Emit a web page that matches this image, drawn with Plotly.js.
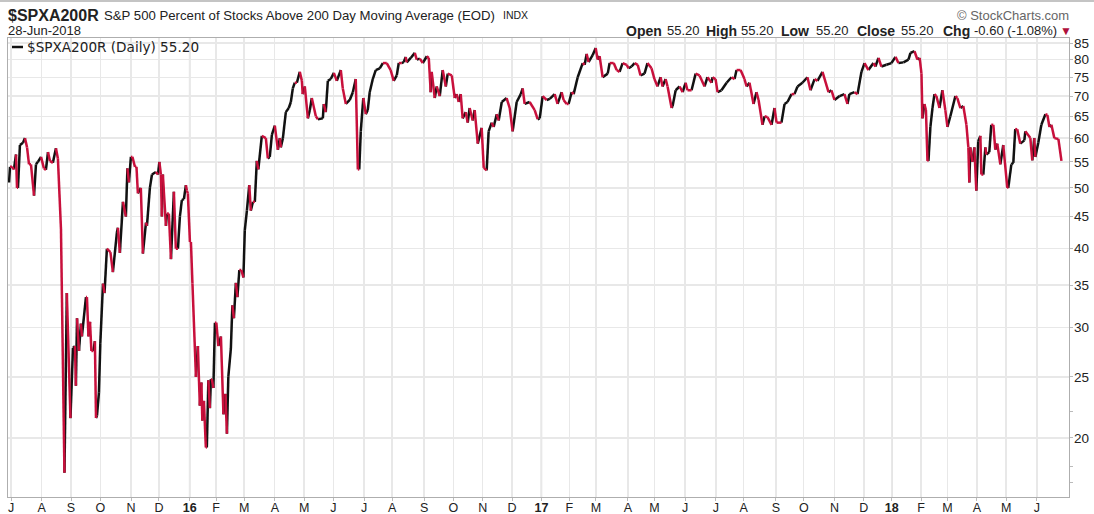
<!DOCTYPE html>
<html><head><meta charset="utf-8">
<script src="https://cdn.plot.ly/plotly-3.0.1.min.js"></script>
<style>html,body{margin:0;padding:0;background:#fff}#c{width:1094px;height:514px}</style>
</head><body><div id="c"></div>
<script>
// Trading sessions counted from 1 Jul 2015
const sessions = [-1.4,-0.7,0.7,2.1,3.6,4.3,5,6.4,8.6,10,11.5,12.9,14.3,16.5,17.9,19.3,21.5,23.6,25,26.5,27.9,30,32.2,33.6,35.8,36.5,38.3,40,42.6,44.4,45.8,46.5,47.3,48.7,50.1,50.8,53.7,54.4,55.5,56.6,57.6,59,60.1,60.9,61.6,63,64,65.9,67,68.7,71.2,73,75.9,76.6,78,80.2,82.3,83.4,84.5,85.9,87,88.8,89.9,90.9,93,94.5,96.7,97.4,99.5,101,103.8,105.3,106.3,107.4,108.1,108.8,111,111.7,113.1,114.6,116.7,118.1,119.6,121,122.4,123.9,125.3,126,126.7,128.2,128.9,130,132.5,133.9,134.6,135.3,136.4,137.1,138.2,139.6,140.3,141.4,142.5,143.2,143.9,145,146.1,147.1,148.6,150.4,152.2,153.6,154.7,155.7,157.5,158.6,159.7,161.1,162.2,163.6,165,166.5,167.5,169,170.7,171.8,173.3,174.7,176.1,177.2,179.7,182.6,184,185.4,186.9,189,191.2,192.6,193.3,194.8,196.9,199,200.5,201.9,203.3,204.8,206.9,208.4,209,210.5,212.7,214.1,215.5,218.4,219.9,223.4,224.1,225.5,227,229.1,231.3,233.4,236.3,237.7,239.9,242.7,244.9,247,248.5,249.5,250.6,252.4,254.2,255.6,257,259.2,261.3,264.2,266.4,269.2,272,274.2,276.4,277.8,280,281.4,282.8,283.5,286.4,289.3,290.7,292.9,295,297.9,299.3,300.7,301.4,303.6,305,307.2,309.3,311.5,312.9,315.8,317.9,319.3,320.8,322.2,323.6,325.8,327.2,328.6,330.8,332.2,334.4,337.2,338.7,340.8,342.2,344.4,345.8,348,349.4,351.6,355.1,357.3,359.4,362.3,365.2,366.6,368,371.6,375.2,377.3,378.8,380.9,383.8,386,389.5,391.6,394.5,395.9,398.1,399.5,401.7,403.1,406,409.6,411,412.4,413.8,416.7,418.9,420.3,421.7,423.9,427.5,428.9,431.8,433.9,436,438.2,441.1,442.5,444.6,446.8,449,451,453.9,456,458.9,461,463.2,465.4,466.8,469,470.4,473.3,474,476.2,479,481.2,483.3,484.7,487.6,490.5,493.3,496.9,499,501.9,502.6,504.8,506.2,509,512.7,516.2,518.4,519.8,522.7,525.5,527,529.1,532,534.1,535.6,538.4,539.9,542,544.9,547,548.5,552,554.2,556.3,559.2,561.3,563.5,567,570.6,572.8,575.7,577.8,581.4,585.7,587.8,590,593.6,597.1,599.3,600.7,604.3,606.5,609.3,611.5,614.3,617.9,619.3,621.5,623.6,627.2,630.8,633.7,635.8,639.4,643,644.4,647.3,649.4,651,652.3,653,654.4,655.5,656.6,657.3,658.7,660.2,661.6,663,665.2,667.3,669.4,670.9,673,676.6,678,680.2,682.3,684.5,685.9,686.6,687.3,688.8,690.2,691.6,693,694.5,695.2,696.6,698.1,698.8,700.9,702.3,703.8,705.2,706.6,708.8,710.9,713.8,714.5,716.7,718.1,719.5,720.9,723.1,726,726.7,730.3,731.7,733.1,733.9,736,738.2,741.1,742.5,744,745.4,747.5,750.4,752.6];
const percentAbove = [51,54,54,53.5,56.5,50,50,58.5,59,60,58,54.5,54.5,48.6,54.5,55,56,53.7,53.4,57,55.2,54.8,57.8,55.7,43,33.5,17.6,34,21.5,27.8,28,24.2,31,27.5,30.4,29,33.5,33.5,29,30.6,27.5,27.5,28.5,21.5,21.7,23.6,28.3,35.2,34,40,39.5,36.7,42.5,43.2,39.4,47.5,45,53.7,51,56,56,54,54,49,50,39.3,44,43.5,50,52.5,53,52.5,55,52.5,45,52.5,43.5,45.5,45.5,38.5,49.3,40,40,45,47.8,48,50.5,49.5,49,41,41,35.2,25,28,25,22.5,24.5,21.3,22.9,19.3,19.3,24.7,22.3,24.8,24.8,24,30.5,30.5,28,29,21.8,23.5,20.3,25,27.7,32.5,31,35.3,33.5,37,37,36,42.8,46,50.5,46,47.5,47.5,55.2,53.5,60.5,60,55.7,56,60.7,62.8,57.5,60,58,60,66,67,68.5,72,73.5,73.5,76.5,74,70.5,72.5,64.5,66.5,69.5,65,64.3,64.5,68,66,74,74.5,76.2,74,77,72,68,69,71,74.5,53.5,53.5,61.5,69.5,65.5,66.5,71,74.5,77,77.5,79,79,77,74,75.5,79,79,79.3,80.8,79.2,80.5,82,80,80.3,79,81,80.5,71,76.5,69.5,72.5,70,77,72.5,76,75.5,69.5,70.5,68.5,70.5,64.5,66,63.5,67,64,66.5,58.8,62.3,53.8,53.3,61.5,63.5,62.5,65.5,64,68.5,69.5,67,61.5,68.5,70.5,72,68,68.5,66.5,64.3,64.5,70,69,69.3,70.5,68,71,69,68,68,71,70.5,75,79,78.5,81.7,79.3,81.3,83.5,80,81,75,76,79,79,77,76.5,79,78.5,77.5,78,79,78.5,75.5,76,79,77.5,74.5,72.5,75,72.5,74.5,72.5,67,67.5,71.5,72.5,71,73.5,71.5,71.5,76,75.5,72.5,75,73.5,75,74.5,71,71.5,73.5,75,74.5,77,77,74.5,72.5,73.5,68,71,69,63,65,64.8,63,67,63.5,63.5,68,68.5,70.5,70.5,72.5,73.5,75,71.5,74.5,74,76.5,71,71.5,69,70,70.5,68,70.5,71,70.5,76.5,79,77,79,78,80.5,78,78.5,79,80.8,79,79.2,80,82,82.5,80,80.5,76,64.5,68,66.5,55.2,55.2,62.5,67,70.5,70,67,71.5,66.5,62.5,65,70,69.5,67,67.5,63,58,51,58,55,58,49.5,59.3,60.5,52.5,52.5,58,56.5,57,63,63,57.5,58.8,54.5,58.5,50,50,54.5,54.8,62,62,58.8,59.5,61.5,60,55.3,60,56,59,63,65.5,65.3,62.5,63,60,59.8,55.2];

const monthLengths = [22,21,21,22,20,22,19,20,22,21,21,22,20,23,21,21,21,21,20,19,23,19,22,22,20,23,20,22,21,20,21,19,21,21,22];
const monthLabels = ['J','A','S','O','N','D','<b>16</b>','F','M','A','M','J','J','A','S','O','N','D','<b>17</b>','F','M','A','M','J','J','A','S','O','N','D','<b>18</b>','F','M','A','M','J'];
const yearStarts = [128,380,631];
const yTicks = [85,80,75,70,65,60,55,50,45,40,35,30,25,20];
const yMinorTicks = [22,18,17];
const xRange = [-2.15,758];
const yRange = [16.1,86.6];

const monthStarts = [0];
monthLengths.forEach(n => monthStarts.push(monthStarts[monthStarts.length-1]+n));

const upX=[],upY=[],dnX=[],dnY=[];
for(let i=1;i<sessions.length;i++){
  const up = percentAbove[i]>percentAbove[i-1];
  const X = up?upX:dnX, Y = up?upY:dnY;
  X.push(sessions[i-1],sessions[i],null);
  Y.push(percentAbove[i-1],percentAbove[i],null);
}
const dark='#111111', red='#c8103c';
const traces=[
  {x:upX,y:upY,mode:'lines',type:'scatter',line:{color:dark,width:2.5},hoverinfo:'skip',showlegend:false},
  {x:dnX,y:dnY,mode:'lines',type:'scatter',line:{color:red,width:2.5},hoverinfo:'skip',showlegend:false}
];

const L=8,R=1069,T=38,B=497;
const px=v=>(v-L)/(R-L), py=v=>(B-v)/(B-T);
const SANS='"Liberation Sans",Arial,sans-serif';
function note(x,y,text,size,color,family,anchor){
  return {xref:'paper',yref:'paper',x:px(x),y:py(y),text,showarrow:false,xanchor:anchor||'left',yanchor:'middle',
    borderpad:0,font:{size,color:color||'#222',family:family||SANS}};
}
const annotations=[
  note(7,15,'<b>$SPXA200R</b>',16,'#222'),
  note(103,15,'S&P 500 Percent of Stocks Above 200 Day Moving Average (EOD)',13.2,'#222'),
  note(502,15,'INDX',10.5,'#222'),
  note(7,31,'28-Jun-2018',13,'#222'),
  note(956,15,'© StockCharts.com',13,'#666'),
  note(625,31,'<b>Open</b>',14),note(666,31,'55.20',13),
  note(705,31,'<b>High</b>',14),note(740,31,'55.20',13),
  note(780,31,'<b>Low</b>',14),note(815,31,'55.20',13),
  note(856,31,'<b>Close</b>',14),note(900,31,'55.20',13),
  note(942,31,'<b>Chg</b>',14),note(973,31,'-0.60 (-1.08%)',13),
  note(1059,31,'▼',12,'#b0103c'),
  note(26,47,'$SPXA200R (Daily) 55.20',13.6,'#222','"DejaVu Sans",sans-serif')
];
const shapes=[
  ...yearStarts.map(s=>({type:'line',layer:'below',xref:'x',yref:'paper',x0:s,x1:s,y0:0,y1:1,line:{color:'#cbcbcb',width:1.5}})),
  {type:'line',xref:'paper',yref:'paper',x0:px(0),x1:px(1094),y0:py(1),y1:py(1),line:{color:'#c4c4c4',width:2}},
  {type:'line',xref:'paper',yref:'paper',x0:px(12),x1:px(23),y0:py(47),y1:py(47),line:{color:'#111',width:2.5}}
];
const layout={
  width:1094,height:514,margin:{l:L,r:1094-R,t:T,b:514-B,pad:0},paper_bgcolor:'#fff',plot_bgcolor:'#fff',showlegend:false,
  font:{family:SANS,color:'#222'},
  xaxis:{range:xRange,tickmode:'array',tickvals:monthStarts,ticktext:monthLabels,ticks:'outside',ticklen:3,tickcolor:'#bbb',tickangle:0,ticklabelstandoff:-4,
    showgrid:true,gridcolor:'#e8e8e8',gridwidth:1.4,zeroline:false,showline:true,mirror:true,linecolor:'#aeaeae',linewidth:1.4,tickfont:{size:12.5,color:'#222'}},
  yaxis:{type:'log',side:'right',range:yRange.map(Math.log10),tickmode:'array',tickvals:yTicks,ticktext:yTicks.map(String),ticks:'outside',ticklen:3,tickcolor:'#bbb',ticklabelstandoff:-2,
    minor:{tickmode:'array',tickvals:yMinorTicks,ticks:'outside',ticklen:3,tickcolor:'#bbb',showgrid:false},
    showgrid:true,gridcolor:'#e8e8e8',gridwidth:1.4,zeroline:false,showline:true,mirror:true,linecolor:'#aeaeae',linewidth:1.4,tickfont:{size:13.5,color:'#222'}},
  annotations,shapes
};
Plotly.newPlot('c',traces,layout,{displayModeBar:false,staticPlot:true});
</script></body></html>
